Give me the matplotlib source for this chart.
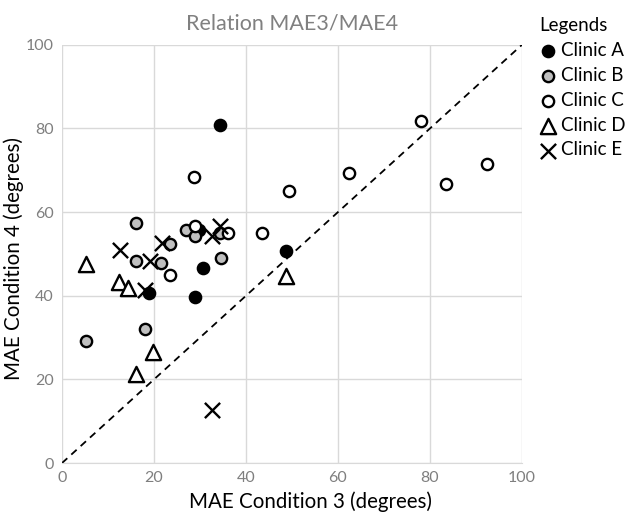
import numpy as np
import matplotlib
matplotlib.use("Agg")
import matplotlib.pyplot as plt

plt.rcParams["font.family"] = ["Lato", "DejaVu Sans"]

# data (MAE cond 3, MAE cond 4)
clinic_a_x = [34.3, 29.8, 30.6, 18.9, 28.9, 48.8]
clinic_a_y = [80.9, 55.7, 46.6, 40.7, 39.8, 50.8]

clinic_b_x = [16.2, 27.0, 28.9, 34.3, 23.5, 16.2, 21.5, 34.5, 5.2, 18.0]
clinic_b_y = [57.3, 55.7, 54.3, 55.0, 52.3, 48.2, 47.8, 49.0, 29.3, 32.0]

clinic_c_x = [28.8, 49.3, 78.0, 83.5, 92.4, 62.4, 43.4, 36.1, 28.9, 23.5]
clinic_c_y = [68.4, 65.1, 81.7, 66.7, 71.5, 69.3, 55.0, 55.0, 56.7, 45.0]

clinic_d_x = [5.2, 12.5, 14.4, 19.8, 16.2, 48.8]
clinic_d_y = [47.6, 43.4, 41.8, 26.6, 21.4, 44.7]

clinic_e_x = [34.3, 32.7, 12.6, 21.7, 19.1, 18.0, 32.6]
clinic_e_y = [56.7, 54.3, 51.0, 52.6, 48.3, 41.4, 12.7]

ticks = [0, 20, 40, 60, 80, 100]

fig = plt.figure(figsize=(6.32, 5.14), dpi=100)
ax = fig.add_axes([0.098, 0.099, 0.728, 0.814])

ax.plot([0, 100], [0, 100], ls=(0, (4, 3)), color="black", lw=1.3, zorder=1)

ms = 66
lw = 1.7
ax.scatter(clinic_a_x, clinic_a_y, s=ms, marker="o", facecolor="black",
           edgecolor="black", linewidth=lw, label="Clinic A", zorder=3)
ax.scatter(clinic_b_x, clinic_b_y, s=ms, marker="o", facecolor="#bfbfbf",
           edgecolor="black", linewidth=lw, label="Clinic B", zorder=3)
ax.scatter(clinic_c_x, clinic_c_y, s=ms, marker="o", facecolor="white",
           edgecolor="black", linewidth=lw, label="Clinic C", zorder=3)
ax.scatter(clinic_d_x, clinic_d_y, s=120, marker="^", facecolor="white",
           edgecolor="black", linewidth=lw, label="Clinic D", zorder=3)
ax.scatter(clinic_e_x, clinic_e_y, s=120, marker="x", color="black",
           linewidth=lw, label="Clinic E", zorder=3)

ax.set_xlim(0, 100)
ax.set_ylim(0, 100)
ax.set_xticks(ticks)
ax.set_yticks(ticks)
ax.grid(True, color="#d9d9d9", lw=1)
ax.set_axisbelow(True)
for s in ["top", "right", "left"]:
    ax.spines[s].set_visible(False)
ax.spines["bottom"].set_color("#d9d9d9")
ax.tick_params(length=0, labelsize=11.5, colors="#7f7f7f", pad=6)

ax.set_xlabel("MAE Condition 3 (degrees)", fontsize=14.8)
ax.set_ylabel("MAE Condition 4 (degrees)", fontsize=14.8)
ax.xaxis.set_label_coords(0.54, -0.068)
ax.yaxis.set_label_coords(-0.082, 0.49)
ax.set_title("Relation MAE3/MAE4", fontsize=15.5, color="#808080", pad=11)

leg = fig.legend(loc="upper left", bbox_to_anchor=(0.838, 0.985),
                 title="Legends", frameon=False, fontsize=13.5,
                 title_fontsize=13.5, handletextpad=0.2, labelspacing=0.42,
                 borderpad=0, handlelength=1.0, alignment="left")

fig.savefig("out.png", dpi=100)
